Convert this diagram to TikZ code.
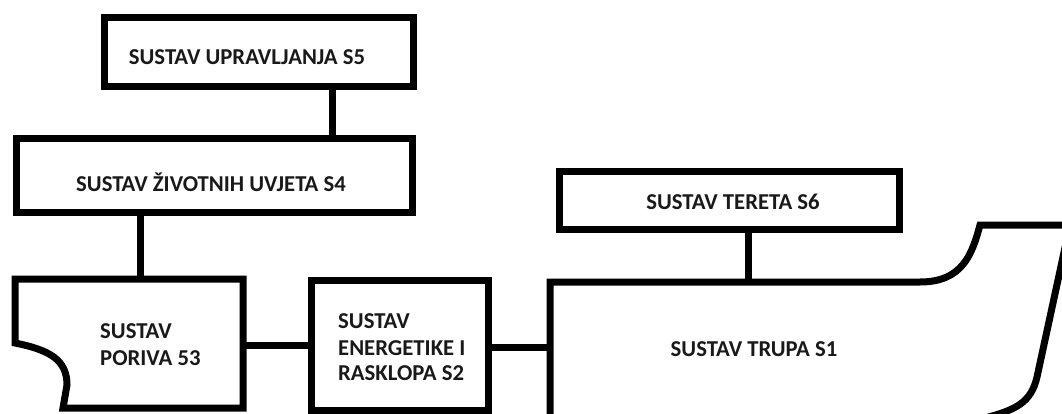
\documentclass[tikz,border=0pt]{standalone}
\usepackage{fontspec}
\setmainfont{Carlito}
\begin{document}
\begin{tikzpicture}[x=1pt,y=-1pt,
  box/.style={rectangle, draw=black, line width=7pt, inner sep=0pt, outer sep=0pt},
  area/.style={rectangle, inner sep=0pt, outer sep=0pt},
  outline/.style={draw=black, line width=7pt},
  conn/.style={draw=black, line width=7pt},
  lbl/.style={font=\bfseries\fontsize{22.7}{26}\selectfont, text=black!90, inner sep=0pt}]
\useasboundingbox (0,0) rectangle (1062,414);
\clip (0,0) rectangle (1062,414);
\fill[white] (0,0) rectangle (1062,414);
% boxes
\node[box, minimum width=309pt, minimum height=69pt] (s5) at (258.5,52.5) {};
\node[box, minimum width=396pt, minimum height=73pt] (s4) at (214,175.5) {};
\node[box, minimum width=340pt, minimum height=57pt] (s6) at (729,200.5) {};
\node[box, minimum width=177pt, minimum height=130pt] (s2) at (399.5,345) {};
\node[area, minimum width=228pt, minimum height=129pt] (s3) at (129,343.5) {};
\node[area, minimum width=480pt, minimum height=132pt] (s1) at (790,348) {};
% irregular outlines
\draw[outline] (s3.north west) -- (s3.north east) -- (s3.south east) -- (63,408) -- (67,385)
  .. controls (67,360) and (50,350) .. (15,343) -- cycle;
\draw[outline] (550,425) -- (s1.north west) -- (920,282)
  .. controls (962,282) and (972,255) .. (980,225) -- (1075,225);
\draw[outline] (1066,243) -- (1037,377) .. controls (1031,403) and (1015,410) .. (985,418);
% connectors
\coordinate (k54) at (332,0);
\coordinate (k43) at (140,0);
\coordinate (k32) at (0,345);
\coordinate (k21) at (0,347);
\coordinate (k61) at (748,0);
\draw[conn] (s5.south -| k54) -- (s4.north -| k54);
\draw[conn] (s4.south -| k43) -- (s3.north -| k43);
\draw[conn] (s3.east |- k32) -- (s2.west |- k32);
\draw[conn] (s2.east |- k21) -- (s1.west |- k21);
\draw[conn] (s6.south -| k61) -- (s1.north -| k61);
% labels
\node[lbl, anchor=base] (t5) at (247,65) {SUSTAV UPRAVLJANJA S5};
\node[lbl, anchor=base] (t4) at (211,192) {SUSTAV ŽIVOTNIH UVJETA S4};
\node[lbl, anchor=base] (t6) at (733,209) {SUSTAV TERETA S6};
\node[lbl, anchor=base] (t1) at (754,356) {SUSTAV TRUPA S1};
\node[lbl, anchor=base west] (t3a) at (100,338) {SUSTAV};
\node[lbl, anchor=base west] (t3b) at (100,365) {PORIVA 53};
\node[lbl, anchor=base west] (t2a) at (338,328) {SUSTAV};
\node[lbl, anchor=base west] (t2b) at (338,355) {ENERGETIKE I};
\node[lbl, anchor=base west] (t2c) at (338,380) {RASKLOPA S2};
\end{tikzpicture}
\end{document}
